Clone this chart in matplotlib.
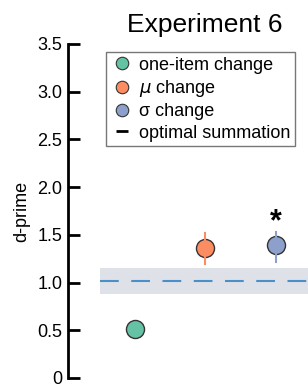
import numpy as np
import matplotlib.pyplot as plt
from matplotlib.lines import Line2D

plt.rcParams['font.family'] = ['Liberation Sans', 'DejaVu Sans']

# data
conditions = ['one-item change', r'$\mu$ change', 'σ change']
xpos = [1, 2, 3]
dprime = [0.51, 1.36, 1.39]
err_lo = [0.47, 1.19, 1.22]
err_hi = [0.54, 1.52, 1.53]
colors = ['#66c2a5', '#fc8d62', '#8da0cb']
optimal = 1.02
optimal_lo = 0.88
optimal_hi = 1.15
star_y = 1.63

fig = plt.figure(figsize=(3.08, 3.87), dpi=100)
ax = fig.add_axes([68/308, 9/387, 243/308, 334/387])

# optimal summation band + line
ax.fill_between([0.5, 3.6], optimal_lo, optimal_hi, color='#dfe1e8', lw=0, zorder=1)
ax.plot([0.5, 3.6], [optimal, optimal], ls=(0, (9, 6)), color='#4b8fc9', lw=1.5, zorder=2)

for x, y, lo, hi, c in zip(xpos, dprime, err_lo, err_hi, colors):
    ax.plot(x, y, 'o', ms=13, mfc=c, mec='#333333', mew=1.0, zorder=3)
    ax.plot([x, x], [lo, hi], color=c, lw=1.5, zorder=4)

ax.text(3, star_y, '*', ha='center', va='center', fontsize=22, fontweight='bold')

ax.set_xlim(0.05, 3.5)
ax.set_ylim(0, 3.5)
ax.set_yticks([0, 0.5, 1.0, 1.5, 2.0, 2.5, 3.0, 3.5])
ax.set_yticklabels(['0', '0.5', '1.0', '1.5', '2.0', '2.5', '3.0', '3.5'], fontsize=13)
ax.tick_params(axis='y', direction='in', length=8.5, width=2, pad=4)
ax.set_xticks([])
for s in ['top', 'right', 'bottom']:
    ax.spines[s].set_visible(False)
ax.spines['left'].set_linewidth(2)
ax.set_ylabel('d-prime', fontsize=13, labelpad=5)

fig.text(205/308, 1 - 25/387, 'Experiment 6', ha='center', va='center', fontsize=19)

handles = [Line2D([], [], ls='', marker='o', ms=9, mfc=c, mec='#333333', mew=0.8)
           for c in colors]
handles.append(Line2D([], [], ls='', marker='_', ms=9, mew=2, color='black'))
labels = conditions + ['optimal summation']
leg = ax.legend(handles, labels, loc='upper left', bbox_to_anchor=(106/308, 1 - 52/387),
                bbox_transform=fig.transFigure, fontsize=13, frameon=True, fancybox=False,
                edgecolor='#555555', handletextpad=0.3, labelspacing=0.24,
                borderpad=0.25, handlelength=1.3, borderaxespad=0)
leg.get_frame().set_linewidth(1.0)

fig.savefig('out.png', dpi=100)
